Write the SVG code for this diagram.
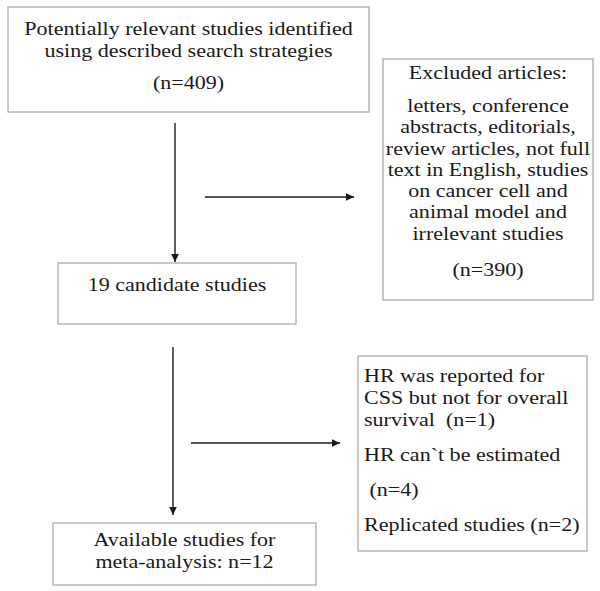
<svg xmlns="http://www.w3.org/2000/svg" width="600" height="591" viewBox="0 0 600 591">
<style>
.box{fill:#fff;stroke:#a6a6a6;stroke-width:1.2}
.t{font-family:"Liberation Serif","Times New Roman",serif;font-size:19px;fill:#1a1a1a}
.c{text-anchor:middle}
.edge{stroke:#1a1a1a;stroke-width:1.4;fill:none}
</style>
<defs>
<marker id="ah" markerWidth="9" markerHeight="8" refX="8.5" refY="4" orient="auto" markerUnits="userSpaceOnUse">
<path d="M0,0 L8.5,4 L0,8 z" fill="#1a1a1a"/>
</marker>
</defs>
<rect width="600" height="591" fill="#fff"/>
<g id="identified">
<rect class="box" x="8" y="7" width="361" height="105"/>
<g transform="matrix(1.16 0 0 1 -30.16 0)">
<text class="t c" x="188.5" y="35">Potentially relevant studies identified</text>
<text class="t c" x="188.5" y="57">using described search strategies</text>
<text class="t c" x="188.5" y="89">(n=409)</text>
</g>
</g>
<g id="excluded">
<rect class="box" x="383" y="59" width="210" height="241"/>
<g transform="matrix(1.16 0 0 1 -78.08 0)">
<text class="t c" x="488" y="79">Excluded articles:</text>
<text class="t c" x="488" y="112">letters, conference</text>
<text class="t c" x="488" y="133.3">abstracts, editorials,</text>
<text class="t c" x="488" y="154.6">review articles, not full</text>
<text class="t c" x="488" y="175.9">text in English, studies</text>
<text class="t c" x="488" y="197.2">on cancer cell and</text>
<text class="t c" x="488" y="218.5">animal model and</text>
<text class="t c" x="488" y="239.8">irrelevant studies</text>
<text class="t c" x="488" y="276">(n=390)</text>
</g>
</g>
<g id="candidates">
<rect class="box" x="58" y="263" width="238" height="61"/>
<g transform="matrix(1.16 0 0 1 -28.32 0)">
<text class="t c" x="177" y="291">19 candidate studies</text>
</g>
</g>
<g id="reasons">
<rect class="box" x="358" y="356" width="229" height="195"/>
<g transform="matrix(1.16 0 0 1 -58.24 0)">
<text class="t" x="364" y="382">HR was reported for</text>
<text class="t" x="364" y="404">CSS but not for overall</text>
<text class="t" x="364" y="426" style="white-space:pre">survival  (n=1)</text>
<text class="t" x="364" y="461.5">HR can`t be estimated</text>
<text class="t" x="364" y="496" style="white-space:pre"> (n=4)</text>
<text class="t" x="364" y="531">Replicated studies (n=2)</text>
</g>
</g>
<g id="available">
<rect class="box" x="53" y="523" width="263" height="62"/>
<g transform="matrix(1.16 0 0 1 -29.52 0)">
<text class="t c" x="184.5" y="546">Available studies for</text>
<text class="t c" x="184.5" y="568">meta-analysis: n=12</text>
</g>
</g>
<g id="connectors">
<line class="edge" x1="175" y1="123" x2="175" y2="262" marker-end="url(#ah)"/>
<line class="edge" x1="205" y1="197" x2="354" y2="197" marker-end="url(#ah)"/>
<line class="edge" x1="173" y1="347" x2="173" y2="515" marker-end="url(#ah)"/>
<line class="edge" x1="191" y1="443" x2="340" y2="443" marker-end="url(#ah)"/>
</g>
</svg>
